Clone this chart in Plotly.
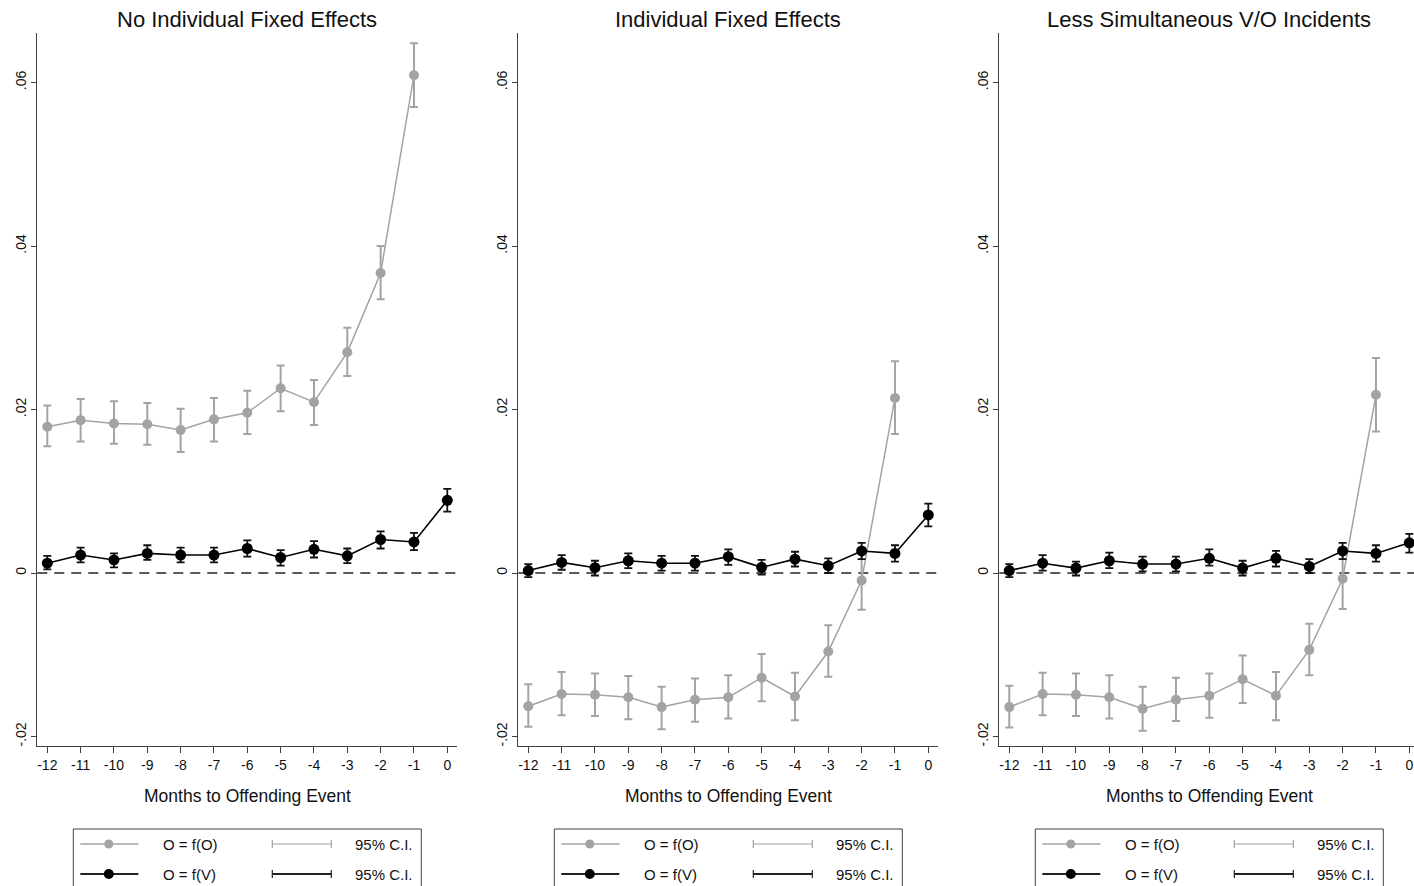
import plotly.graph_objects as go

W, H = 1414, 886

# ---------------- data ----------------
months_o = [-12, -11, -10, -9, -8, -7, -6, -5, -4, -3, -2, -1]
months_v = [-12, -11, -10, -9, -8, -7, -6, -5, -4, -3, -2, -1, 0]

titles = ["No Individual Fixed Effects", "Individual Fixed Effects", "Less Simultaneous V/O Incidents"]

# Panel 1
p1_o = [0.0179, 0.0187, 0.0183, 0.0182, 0.0175, 0.0188, 0.0196, 0.0226, 0.0209, 0.0270, 0.0367, 0.0609]
p1_o_lo = [0.0155, 0.0161, 0.0158, 0.0157, 0.0148, 0.0161, 0.0170, 0.0198, 0.0181, 0.0241, 0.0335, 0.0570]
p1_o_hi = [0.0205, 0.0213, 0.0210, 0.0208, 0.0201, 0.0214, 0.0223, 0.0254, 0.0236, 0.0300, 0.0400, 0.0648]
p1_v = [0.0012, 0.0022, 0.0016, 0.0024, 0.0022, 0.0022, 0.0030, 0.0019, 0.0029, 0.0021, 0.0041, 0.0038, 0.0089]
p1_v_lo = [0.00045, 0.0013, 0.0007, 0.0016, 0.0013, 0.0013, 0.0020, 0.0009, 0.0019, 0.0012, 0.0030, 0.0028, 0.0075]
p1_v_hi = [0.0021, 0.0031, 0.0024, 0.0034, 0.0031, 0.0031, 0.0040, 0.0028, 0.0039, 0.0030, 0.0051, 0.0049, 0.0103]

# Panel 2
p2_o = [-0.0163, -0.0148, -0.0149, -0.0152, -0.0164, -0.0155, -0.0152, -0.0128, -0.0151, -0.0096, -0.0009, 0.0214]
p2_o_lo = [-0.0188, -0.0174, -0.0175, -0.0179, -0.0191, -0.0182, -0.0178, -0.0157, -0.0180, -0.0127, -0.0045, 0.0170]
p2_o_hi = [-0.0136, -0.0121, -0.0123, -0.0126, -0.0139, -0.0129, -0.0125, -0.0099, -0.0122, -0.0064, 0.0027, 0.0259]
p2_v = [0.0003, 0.0013, 0.00065, 0.0015, 0.0012, 0.0012, 0.0020, 0.0007, 0.0017, 0.0009, 0.0027, 0.0024, 0.0071]
p2_v_lo = [-0.0005, 0.0004, -0.0003, 0.0006, 0.0003, 0.0003, 0.0010, -0.0002, 0.0008, 0.0000, 0.0017, 0.0014, 0.0057]
p2_v_hi = [0.0011, 0.0022, 0.0015, 0.0024, 0.0021, 0.0021, 0.0029, 0.0016, 0.0026, 0.0018, 0.0037, 0.0034, 0.0085]

# Panel 3
p3_o = [-0.0164, -0.0148, -0.0149, -0.0152, -0.0166, -0.0155, -0.0150, -0.0130, -0.0150, -0.0094, -0.0007, 0.0218]
p3_o_lo = [-0.0189, -0.0174, -0.0175, -0.0178, -0.0193, -0.0181, -0.0177, -0.0159, -0.0180, -0.0125, -0.0044, 0.0173]
p3_o_hi = [-0.0138, -0.0122, -0.0123, -0.0125, -0.0139, -0.0128, -0.0123, -0.0101, -0.0121, -0.0062, 0.0030, 0.0263]
p3_v = [0.0003, 0.0012, 0.0006, 0.0015, 0.0011, 0.0011, 0.0018, 0.0006, 0.0018, 0.0008, 0.0027, 0.0024, 0.0037]
p3_v_lo = [-0.0005, 0.0003, -0.0003, 0.0006, 0.0002, 0.0002, 0.0009, -0.0003, 0.0008, 0.0000, 0.0017, 0.0014, 0.0025]
p3_v_hi = [0.0011, 0.0022, 0.0014, 0.0025, 0.0020, 0.0020, 0.0029, 0.0015, 0.0027, 0.0017, 0.0037, 0.0034, 0.0048]

y_tickvals = [-0.02, 0, 0.02, 0.04, 0.06]
y_ticktext = ["-.02", "0", ".02", ".04", ".06"]
x_tickvals = months_v
x_ticktext = [str(m) for m in months_v]

legend_labels = ["O = f(O)", "O = f(V)"]
ci_label = "95% C.I."
x_title = "Months to Offending Event"

# ---------------- styling ----------------
FONT = "Arial, Liberation Sans, sans-serif"
GRAY = "#a3a3a3"
BLACK = "#000000"
AXC = "#404040"

panels = [
    (p1_o, p1_o_lo, p1_o_hi, p1_v, p1_v_lo, p1_v_hi),
    (p2_o, p2_o_lo, p2_o_hi, p2_v, p2_v_lo, p2_v_hi),
    (p3_o, p3_o_lo, p3_o_hi, p3_v, p3_v_lo, p3_v_hi),
]

axis_left_px = [37.3, 518.3, 999.3]
PX_PER_MONTH = 400 / 12.0
y_top_px, y_bot_px = 33, 746
y_range = [-0.02116, 0.06606]

def fx(px):
    return px / W

def fy(py):
    return 1 - py / H

fig = go.Figure()
layout = dict(
    width=W, height=H,
    margin=dict(l=0, r=0, t=0, b=0),
    paper_bgcolor="white", plot_bgcolor="white",
    showlegend=False,
    font=dict(family=FONT, color="#222"),
)

shapes = []
annotations = []

for i, (o, olo, ohi, v, vlo, vhi) in enumerate(panels):
    n = i + 1
    xa = "x" if n == 1 else f"x{n}"
    ya = "y" if n == 1 else f"y{n}"
    left = axis_left_px[i]
    right = min(left + 420, W)
    x0 = -12 - 10 / PX_PER_MONTH
    x1 = x0 + (right - left) / PX_PER_MONTH

    layout[f"xaxis{'' if n == 1 else n}"] = dict(
        domain=[fx(left), fx(right)], range=[x0, x1], anchor=ya,
        showline=True, linecolor=AXC, linewidth=1, showgrid=False, zeroline=False,
        ticks="outside", ticklen=6, tickcolor=AXC, tickwidth=1,
        tickvals=x_tickvals, ticktext=x_ticktext,
        tickfont=dict(family=FONT, size=14, color="#111"),
    )
    layout[f"yaxis{'' if n == 1 else n}"] = dict(
        domain=[fy(y_bot_px), fy(y_top_px)], range=y_range, anchor=xa,
        showline=True, linecolor=AXC, linewidth=1, showgrid=False, zeroline=False,
        ticks="outside", ticklen=5, tickcolor=AXC, tickwidth=1,
        tickvals=y_tickvals, ticktext=y_ticktext, tickangle=-90,
        tickfont=dict(family=FONT, size=14, color="#111"),
    )

    # zero reference line
    shapes.append(dict(type="line", xref=f"{xa} domain", yref=ya, x0=0, x1=1, y0=0, y1=0,
                       line=dict(color="#5a5a5a", width=2, dash="10px,7px"), layer="below"))

    # O = f(O)
    fig.add_trace(go.Scatter(
        x=months_o, y=o, xaxis=xa, yaxis=ya, mode="lines+markers",
        line=dict(color=GRAY, width=1.5),
        marker=dict(color=GRAY, size=10),
        error_y=dict(type="data", symmetric=False,
                     array=[h - m for h, m in zip(ohi, o)],
                     arrayminus=[m - l for m, l in zip(o, olo)],
                     color=GRAY, thickness=2, width=4),
    ))
    # O = f(V)
    fig.add_trace(go.Scatter(
        x=months_v, y=v, xaxis=xa, yaxis=ya, mode="lines+markers",
        line=dict(color=BLACK, width=1.6),
        marker=dict(color=BLACK, size=11),
        error_y=dict(type="data", symmetric=False,
                     array=[h - m for h, m in zip(vhi, v)],
                     arrayminus=[m - l for m, l in zip(v, vlo)],
                     color="#111", thickness=1.8, width=4),
    ))

    center = left + 210
    annotations.append(dict(text=titles[i], x=fx(center), y=fy(20), xref="paper", yref="paper",
                            showarrow=False, xanchor="center", yanchor="middle",
                            font=dict(family=FONT, size=22, color="#111")))
    annotations.append(dict(text=x_title, x=fx(center), y=fy(796), xref="paper", yref="paper",
                            showarrow=False, xanchor="center", yanchor="middle",
                            font=dict(family=FONT, size=17.5, color="#111")))

    # legend box
    bl = left + 36
    shapes.append(dict(type="rect", xref="paper", yref="paper",
                       x0=fx(bl), x1=fx(bl + 348), y0=fy(829), y1=fy(892),
                       line=dict(color=AXC, width=1), fillcolor="white"))
    for r, (col, lw, ms, lab) in enumerate([(GRAY, 1.5, 4.5, legend_labels[0]),
                                             (BLACK, 1.8, 5, legend_labels[1])]):
        yy = 844 + 30 * r
        shapes.append(dict(type="line", xref="paper", yref="paper",
                           x0=fx(bl + 7), x1=fx(bl + 65), y0=fy(yy), y1=fy(yy),
                           line=dict(color=col if r == 0 else "#222", width=lw)))
        shapes.append(dict(type="circle", xref="paper", yref="paper",
                           x0=fx(bl + 35.5 - ms), x1=fx(bl + 35.5 + ms),
                           y0=fy(yy + ms), y1=fy(yy - ms),
                           line=dict(color=col, width=0), fillcolor=col))
        # CI sample
        shapes.append(dict(type="line", xref="paper", yref="paper",
                           x0=fx(bl + 199), x1=fx(bl + 258), y0=fy(yy), y1=fy(yy),
                           line=dict(color=col if r == 0 else "#222", width=1.2 if r == 0 else 1.8)))
        for cx in (bl + 199, bl + 258):
            shapes.append(dict(type="line", xref="paper", yref="paper",
                               x0=fx(cx), x1=fx(cx), y0=fy(yy - 4), y1=fy(yy + 4),
                               line=dict(color=col if r == 0 else "#222", width=1.2)))
        annotations.append(dict(text=lab, x=fx(bl + 88), y=fy(yy), xref="paper", yref="paper",
                                showarrow=False, xanchor="left", yanchor="middle",
                                font=dict(family=FONT, size=15, color="#111")))
        annotations.append(dict(text=ci_label, x=fx(bl + 280), y=fy(yy), xref="paper", yref="paper",
                                showarrow=False, xanchor="left", yanchor="middle",
                                font=dict(family=FONT, size=15, color="#111")))

layout["shapes"] = shapes
layout["annotations"] = annotations
fig.update_layout(**layout)
fig.write_html("out.html")
